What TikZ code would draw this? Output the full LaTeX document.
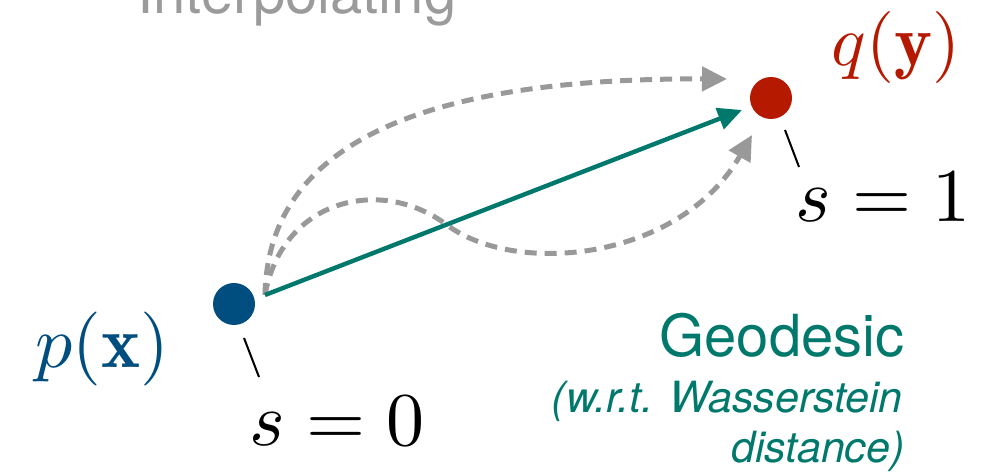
\documentclass[tikz,border=0pt]{standalone}
\usepackage{graphicx}
\usepackage{amsmath}
\usepackage{fontspec}
\newfontfamily\helv{TeX Gyre Heros}
\usetikzlibrary{arrows.meta}
\definecolor{pblue}{RGB}{0,77,128}
\definecolor{qred}{RGB}{181,26,0}
\definecolor{geo}{RGB}{0,121,108}
\definecolor{dgray}{RGB}{153,153,153}
\definecolor{tgray}{RGB}{155,155,155}
\tikzset{
  dot/.style={circle, minimum size=21pt, inner sep=0pt, draw=none},
  lbl/.style={inner sep=0pt},
  geoline/.style={draw=geo, line width=2.2pt, -{Triangle[length=12pt,width=11pt]}},
  dashline/.style={draw=dgray, line width=2.5pt, dash pattern=on 6pt off 4pt, -{Triangle[length=12.5pt,width=12pt]}},
  tickline/.style={draw=black, line width=1pt},
}
\begin{document}
\begin{tikzpicture}[x=0.5pt,y=-0.5pt]
\useasboundingbox (0,0) rectangle (988,474);
\clip (0,0) rectangle (988,474);

% dots
\node[dot, fill=pblue] (p) at (234,304) {};
\node[dot, fill=qred] (q) at (771,98) {};

% title (cut off at top)
\node[lbl, anchor=base west, text=tgray, font=\helv\fontsize{29}{34}\selectfont] (title) at (137,14) {Interpolating};

% math labels
\node[lbl, anchor=base, text=pblue] (px) at (102,368) {\scalebox{3.7}{$p(\mathbf{x})$}};
\node[lbl, anchor=base, text=qred] (qy) at (896,66) {\scalebox{3.6}{$q(\mathbf{y})$}};
\node[lbl, anchor=base] (s0) at (337,445) {\scalebox{3.8}{$s=0$}};
\node[lbl, anchor=base] (s1) at (883,222) {\scalebox{3.8}{$s=1$}};

% geodesic text
\node[lbl, anchor=base east, text=geo, font=\helv\fontsize{29}{34}\selectfont] (geot) at (905,357) {Geodesic};
\node[lbl, anchor=base east, text=geo, font=\helv\itshape\fontsize{21.5}{25}\selectfont] (wrt) at (903,413) {(w.r.t. Wasserstein};
\node[lbl, anchor=base east, text=geo, font=\helv\itshape\fontsize{21.5}{25}\selectfont] (dist) at (905,463) {distance)};

% ticks
\draw[tickline] ([shift={(10,34)}]p.center) -- ([shift={(25,73)}]p.center);
\draw[tickline] ([shift={(14,32)}]q.center) -- ([shift={(28,69)}]q.center);

% dashed alternatives
\draw[dashline] ([shift={(31,-9)}]p.center) .. controls (268,140) and (430,78) .. ([shift={(-44,-19)}]q.center);
\draw[dashline] ([shift={(31,-9)}]p.center) .. controls (282,200) and (380,175) .. (447,225)
   .. controls (517,277) and (680,260) .. ([shift={(-19,37)}]q.center);

% geodesic
\draw[geoline] ([shift={(31,-9)}]p.center) -- ([shift={(-29,12)}]q.center);
\end{tikzpicture}
\end{document}
